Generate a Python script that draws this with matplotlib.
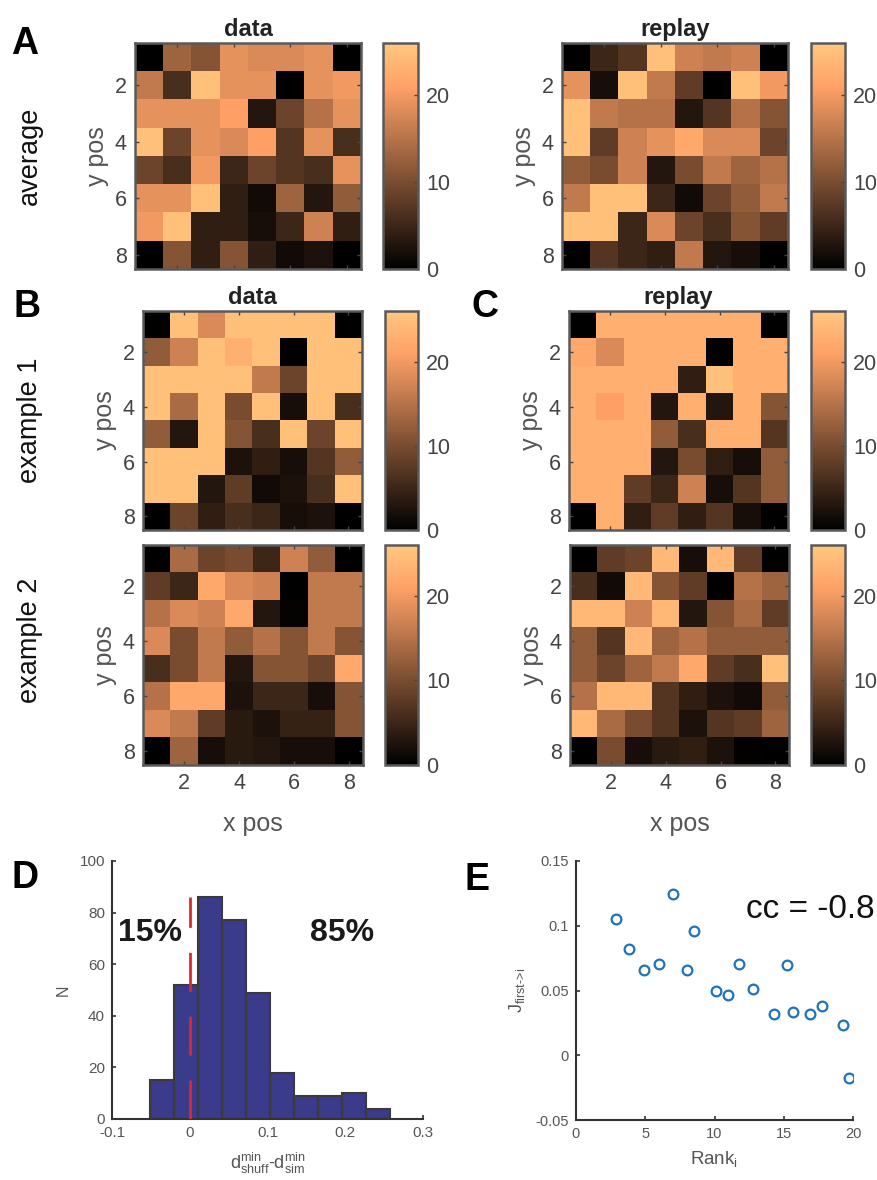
import numpy as np
import matplotlib
matplotlib.use("Agg")
import matplotlib.pyplot as plt

plt.rcParams['font.family'] = ['Liberation Sans', 'DejaVu Sans']
plt.rcParams['mathtext.fontset'] = 'custom'
plt.rcParams['mathtext.rm'] = 'Liberation Sans'
plt.rcParams['mathtext.it'] = 'Liberation Sans'

# ---------------- data ----------------
avg_data = [
    [0, 13, 11, 19, 18, 18, 19, 0],
    [16, 6, 25, 19, 19, 0, 19, 20],
    [19, 19, 19, 21, 3, 9, 15, 19],
    [25, 9, 19, 18, 21, 7, 19, 6],
    [9, 6, 20, 5, 9, 7, 6, 19],
    [19, 19, 25, 4, 1.5, 13, 3, 12],
    [20, 25, 4, 4, 2, 5, 17, 4],
    [0, 11, 4, 11, 4, 1.5, 2.5, 0],
]
avg_replay = [
    [0, 5, 7, 25, 17, 16, 17, 0],
    [19, 2, 25, 16, 8, 0, 25, 20],
    [25, 16, 15, 15, 3, 7, 15, 11],
    [25, 8, 17, 19, 22, 18, 18, 9],
    [12, 10, 17, 3, 10, 16, 13, 15],
    [16, 25, 25, 5, 1.5, 9, 12, 16],
    [25, 25, 5, 18, 9, 6, 11, 8],
    [0, 7, 5, 4, 16, 3, 2, 0],
]
ex1_data = [
    [0, 25, 18, 25, 25, 25, 25, 0],
    [12, 17, 25, 23, 25, 0, 25, 25],
    [25, 25, 25, 25, 16, 9, 25, 25],
    [25, 14, 25, 10, 25, 2, 25, 6],
    [12, 3, 25, 11, 6, 25, 9, 25],
    [25, 25, 25, 2.5, 4, 2, 7, 12],
    [25, 25, 3, 8, 1.5, 2.5, 6, 25],
    [0, 9, 4, 6, 5, 2, 2.5, 0],
]
ex1_replay = [
    [0, 23, 23, 23, 23, 23, 23, 0],
    [22, 18, 23, 23, 23, 0, 23, 23],
    [23, 23, 23, 23, 4, 25, 23, 23],
    [23, 21, 23, 3, 23, 3, 23, 11],
    [23, 23, 23, 12, 6, 23, 23, 7],
    [23, 23, 23, 3, 10, 4, 2, 12],
    [23, 23, 8, 5, 17, 2, 7, 12],
    [0, 23, 4, 8, 4, 7, 2, 0],
]
ex2_data = [
    [0, 14, 9, 10, 5, 17, 12, 0],
    [8, 5, 22, 18, 17, 0, 16, 16],
    [15, 18, 17, 22, 3, 0.5, 16, 16],
    [18, 10, 16, 12, 15, 11, 16, 11],
    [6, 10, 16, 3, 11, 11, 9, 22],
    [15, 22, 22, 2.5, 5, 5, 2, 11],
    [18, 16, 8, 3.5, 2.5, 4.5, 4.5, 11],
    [0, 13, 2, 3.5, 3, 2, 2, 0],
]
ex2_replay = [
    [0, 8, 9, 24, 2, 24, 8, 0],
    [6, 1.5, 24, 11, 8, 0, 15, 13],
    [24, 24, 17, 24, 3, 11, 14, 8],
    [12, 7, 24, 13, 15, 12, 12, 12],
    [12, 9, 13, 16, 22, 8, 6, 25],
    [15, 24, 24, 7, 4, 2.5, 1.5, 12],
    [24, 14, 10, 7, 2.5, 7, 8, 13],
    [0, 10, 2, 3.5, 4, 2.5, 0.3, 0],
]

hist_edges = [-0.051, -0.0202, 0.0106, 0.0414, 0.0722, 0.103, 0.1338,
              0.1646, 0.1954, 0.2262, 0.257]
hist_counts = [15, 52, 86, 77, 49, 18, 9, 9, 10, 4]
threshold = 0.0
pct_labels = ["15%", "85%"]

rank_i = [2.9, 3.82, 4.9, 5.98, 6.99, 8.04, 8.55, 10.13, 11.0, 11.74, 12.8,
          14.31, 15.25, 15.68, 16.9, 17.79, 19.26, 19.69]
J_first = [0.105, 0.082, 0.0662, 0.0706, 0.1245, 0.0655, 0.0958, 0.0495,
           0.0467, 0.0708, 0.0513, 0.032, 0.0698, 0.0336, 0.032, 0.0377,
           0.0236, -0.0174]
cc_text = "cc = -0.8"

# ---------------- figure ----------------
W, H = 877, 1180
fig = plt.figure(figsize=(W / 100, H / 100), dpi=100)


def px_axes(x0, y0, x1, y1):
    return fig.add_axes([x0 / W, 1 - y1 / H, (x1 - x0) / W, (y1 - y0) / H])


GRAY = '#555555'
TICKC = '#444444'
VMAX = 26


def heatmap(box, cbox, vals, title=None, xlabels=False):
    ax = px_axes(*box)
    im = ax.imshow(np.array(vals, dtype=float), cmap='copper', vmin=0, vmax=VMAX,
                   extent=(0.5, 8.5, 8.5, 0.5), aspect='auto',
                   interpolation='nearest')
    ax.set_xticks([2, 4, 6, 8])
    ax.set_yticks([2, 4, 6, 8])
    ax.tick_params(direction='in', length=3, width=1, color='#444444',
                   top=True, right=True, labelsize=15.5, labelcolor=TICKC,
                   pad=6)
    if not xlabels:
        ax.set_xticklabels([])
    else:
        ax.set_xlabel('x pos', fontsize=18, color=GRAY, labelpad=13)
    ax.set_ylabel('y pos', fontsize=18, color=GRAY, labelpad=4)
    for s in ax.spines.values():
        s.set_color('#5a5a5a')
        s.set_linewidth(1.8)
    if title:
        ax.set_title(title, fontsize=17, fontweight='bold', color='#222222',
                     pad=5)
    cax = px_axes(*cbox)
    cb = fig.colorbar(im, cax=cax, ticks=[0, 10, 20])
    cb.outline.set_edgecolor('#5a5a5a')
    cb.outline.set_linewidth(1.8)
    cax.tick_params(direction='in', length=3, width=1, color='#444444',
                    labelsize=15.5, labelcolor=TICKC, pad=6)
    return ax


heatmap((135, 43, 361, 269), (383, 43, 418, 269), avg_data, 'data')
heatmap((562, 43, 788, 269), (811, 43, 845, 269), avg_replay, 'replay')
heatmap((143, 311, 362, 530), (385, 311, 418, 530), ex1_data, 'data')
heatmap((569, 311, 788, 530), (811, 311, 845, 530), ex1_replay, 'replay')
heatmap((143, 545, 363, 765), (385, 545, 418, 765), ex2_data, None, True)
heatmap((570, 545, 789, 765), (811, 545, 845, 765), ex2_replay, None, True)

# row labels
for txt, yc in [('average', 156), ('example 1', 420), ('example 2', 640)]:
    fig.text(30 / W, 1 - yc / H, txt, rotation=90, fontsize=19.5,
             ha='center', va='center', color='#111111')

# panel letters
for txt, xc, yc in [('A', 25, 44), ('B', 27, 307), ('C', 485, 307),
                    ('D', 25, 878), ('E', 477, 880)]:
    fig.text(xc / W, 1 - yc / H, txt, fontsize=27, fontweight='bold',
             ha='center', va='center', color='#000000')

# ---------------- D histogram ----------------
axd = px_axes(112, 861, 423, 1119)
lefts = hist_edges[:-1]
widths = np.diff(hist_edges)
axd.bar(lefts, hist_counts, width=widths, align='edge', color='#3b3b8c',
        edgecolor='#3a3a3a', linewidth=1.5, zorder=2)
axd.plot([threshold, threshold], [0, max(hist_counts)], color='#e2262f',
         lw=2, linestyle=(0, (14, 9)), zorder=3)
axd.set_xlim(-0.1, 0.3)
axd.set_ylim(0, 100)
axd.set_xticks([-0.1, 0, 0.1, 0.2, 0.3])
axd.set_xticklabels(['-0.1', '0', '0.1', '0.2', '0.3'])
axd.set_yticks([0, 20, 40, 60, 80, 100])
axd.spines['top'].set_visible(False)
axd.spines['right'].set_visible(False)
for s in ('left', 'bottom'):
    axd.spines[s].set_color('#333333')
    axd.spines[s].set_linewidth(1.5)
axd.tick_params(direction='in', length=3, width=1.2, color='#333333',
                labelsize=11, labelcolor='#555555', pad=5)
axd.set_ylabel('N', fontsize=11.5, color='#555555', labelpad=6)
axd.set_xlabel(r'$\mathrm{d^{min}_{shuff}}$-$\mathrm{d^{min}_{sim}}$',
               fontsize=13, color='#555555', labelpad=8)
axd.text(-0.051, 72, pct_labels[0], fontsize=23, fontweight='bold',
         ha='center', va='center', color='#1a1a1a')
axd.text(0.196, 72, pct_labels[1], fontsize=23, fontweight='bold',
         ha='center', va='center', color='#1a1a1a')

# ---------------- E scatter ----------------
axe = px_axes(576, 861, 853, 1120)
axe.plot(rank_i, J_first, linestyle='none', marker='o', markersize=7,
         markerfacecolor='none', markeredgecolor='#1f72bd',
         markeredgewidth=1.6)
axe.set_xlim(0, 20)
axe.set_ylim(-0.05, 0.15)
axe.set_xticks([0, 5, 10, 15, 20])
axe.set_yticks([-0.05, 0, 0.05, 0.1, 0.15])
axe.set_yticklabels(['-0.05', '0', '0.05', '0.1', '0.15'])
axe.spines['top'].set_visible(False)
axe.spines['right'].set_visible(False)
for s in ('left', 'bottom'):
    axe.spines[s].set_color('#333333')
    axe.spines[s].set_linewidth(1.5)
axe.tick_params(direction='in', length=3, width=1.2, color='#333333',
                labelsize=10.5, labelcolor='#555555', pad=5)
axe.set_ylabel(r'$\mathrm{J}_{\text{first->i}}$', fontsize=13,
               color='#555555', labelpad=6)
axe.set_xlabel(r'$\mathrm{Rank_i}$', fontsize=13.5, color='#555555',
               labelpad=6)
axe.text(16.9, 0.1125, cc_text, fontsize=24, ha='center', va='center',
         color='#111111')

fig.savefig('out.png', dpi=100)
